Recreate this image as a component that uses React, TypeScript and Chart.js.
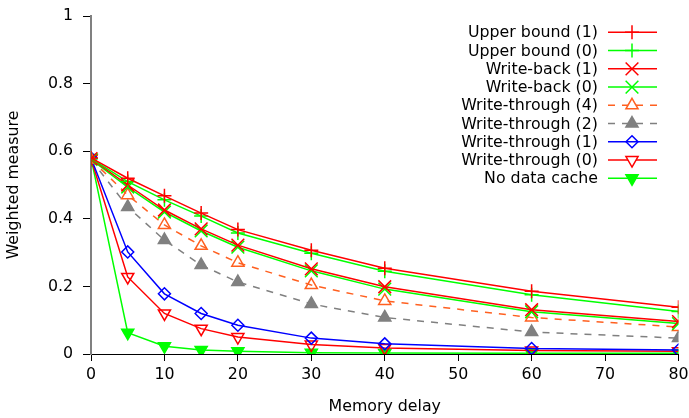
import React, { useEffect, useRef } from "react";
import { Chart, registerables } from "chart.js";

Chart.register(...registerables);

const delays = [0, 5, 10, 15, 20, 30, 40, 60, 80];
const upperBound1 = [0.58, 0.52, 0.468, 0.417, 0.368, 0.307, 0.254, 0.186, 0.138];
const upperBound0 = [0.578, 0.51, 0.456, 0.408, 0.358, 0.298, 0.245, 0.175, 0.126];
const writeBack1 = [0.578, 0.5, 0.426, 0.37, 0.322, 0.252, 0.199, 0.131, 0.096];
const writeBack0 = [0.576, 0.494, 0.42, 0.364, 0.316, 0.246, 0.192, 0.125, 0.09];
const writeThrough4 = [0.576, 0.47, 0.382, 0.32, 0.27, 0.204, 0.157, 0.108, 0.08];
const writeThrough2 = [0.575, 0.435, 0.337, 0.263, 0.213, 0.148, 0.108, 0.065, 0.047];
const writeThrough1 = [0.58, 0.302, 0.178, 0.12, 0.085, 0.047, 0.03, 0.016, 0.012];
const writeThrough0 = [0.578, 0.228, 0.12, 0.075, 0.05, 0.028, 0.018, 0.01, 0.008];
const noDataCache = [0.58, 0.063, 0.023, 0.012, 0.008, 0.004, 0.003, 0.002, 0.002];

const seriesNames = [
  "Upper bound (1)",
  "Upper bound (0)",
  "Write-back (1)",
  "Write-back (0)",
  "Write-through (4)",
  "Write-through (2)",
  "Write-through (1)",
  "Write-through (0)",
  "No data cache",
];
const yTicks = [0, 0.2, 0.4, 0.6, 0.8, 1];

const RED = "#ff0000";
const GREEN = "#00ff00";
const ORANGE = "#ff6020";
const GRAY = "#808080";
const BLUE = "#0000ff";
const FONT = "'DejaVu Sans', sans-serif";
const FS = 15.8;

type Style = {
  color: string;
  point: string;
  rotation: number;
  filled: boolean;
  dash: number[];
  radius: number;
};

const styles: Style[] = [
  { color: RED, point: "cross", rotation: 0, filled: false, dash: [], radius: 7 },
  { color: GREEN, point: "cross", rotation: 0, filled: false, dash: [], radius: 7 },
  { color: RED, point: "crossRot", rotation: 0, filled: false, dash: [], radius: 9 },
  { color: GREEN, point: "crossRot", rotation: 0, filled: false, dash: [], radius: 9 },
  { color: ORANGE, point: "triangle", rotation: 0, filled: false, dash: [7, 7], radius: 7 },
  { color: GRAY, point: "triangle", rotation: 0, filled: true, dash: [7, 7], radius: 7 },
  { color: BLUE, point: "rectRot", rotation: 0, filled: false, dash: [], radius: 6 },
  { color: RED, point: "triangle", rotation: 180, filled: false, dash: [], radius: 7 },
  { color: GREEN, point: "triangle", rotation: 180, filled: true, dash: [], radius: 7 },
];

const allValues = [
  upperBound1,
  upperBound0,
  writeBack1,
  writeBack0,
  writeThrough4,
  writeThrough2,
  writeThrough1,
  writeThrough0,
  noDataCache,
];

function drawMarker(ctx: CanvasRenderingContext2D, s: Style, x: number, y: number) {
  const r = s.radius;
  ctx.beginPath();
  if (s.point === "cross") {
    ctx.moveTo(x - r, y);
    ctx.lineTo(x + r, y);
    ctx.moveTo(x, y - r);
    ctx.lineTo(x, y + r);
    ctx.stroke();
  } else if (s.point === "crossRot") {
    const d = r * Math.SQRT1_2;
    ctx.moveTo(x - d, y - d);
    ctx.lineTo(x + d, y + d);
    ctx.moveTo(x - d, y + d);
    ctx.lineTo(x + d, y - d);
    ctx.stroke();
  } else if (s.point === "rectRot") {
    ctx.moveTo(x, y - r);
    ctx.lineTo(x + r, y);
    ctx.lineTo(x, y + r);
    ctx.lineTo(x - r, y);
    ctx.closePath();
    ctx.stroke();
  } else {
    const sign = s.rotation === 180 ? -1 : 1;
    const edge = (3 * r) / Math.sqrt(3);
    const h = (edge * Math.sqrt(3)) / 2;
    const top = y - (sign * (h * 2)) / 3;
    const bottom = y + (sign * h) / 3;
    ctx.moveTo(x, top);
    ctx.lineTo(x + edge / 2, bottom);
    ctx.lineTo(x - edge / 2, bottom);
    ctx.closePath();
    ctx.fillStyle = s.filled ? s.color : "#ffffff";
    ctx.fill();
    ctx.stroke();
  }
}

const legendPlugin = {
  id: "insideLegend",
  afterDraw(chart: any) {
    const ctx = chart.ctx as CanvasRenderingContext2D;
    const x0 = 608;
    const x1 = 657;
    const xm = 632;
    seriesNames.forEach((name, i) => {
      const y = 32.3 + i * 18.25;
      const s = styles[i];
      ctx.save();
      ctx.font = `${FS}px ${FONT}`;
      ctx.textAlign = "right";
      ctx.textBaseline = "middle";
      ctx.fillStyle = "#000";
      ctx.fillText(name, 598, y + 1);
      ctx.strokeStyle = s.color;
      ctx.lineWidth = 1.5;
      ctx.setLineDash(s.dash);
      ctx.beginPath();
      ctx.moveTo(x0, y);
      ctx.lineTo(x1, y);
      ctx.stroke();
      ctx.setLineDash([]);
      drawMarker(ctx, s, xm, y);
      ctx.restore();
    });
  },
};

export default function App() {
  const ref = useRef<HTMLCanvasElement | null>(null);

  useEffect(() => {
    document.body.style.margin = "0";
    const canvas = ref.current;
    if (!canvas) return;
    const datasets = allValues.map((vals, i) => {
      const s = styles[i];
      return {
        label: seriesNames[i],
        data: delays.map((d, j) => ({ x: d, y: vals[j] })),
        borderColor: s.color,
        backgroundColor: s.filled ? s.color : "#ffffff",
        borderWidth: 1.5,
        borderDash: s.dash,
        pointStyle: s.point as any,
        pointRotation: s.rotation,
        pointRadius: s.radius,
        pointBorderWidth: 1.5,
        pointBorderColor: s.color,
        pointBackgroundColor: s.filled ? s.color : "rgba(255,255,255,0)",
        tension: 0,
        fill: false,
        order: i,
      };
    });
    const chart = new Chart(canvas, {
      type: "line",
      data: { datasets },
      plugins: [legendPlugin],
      options: {
        responsive: false,
        animation: false,
        devicePixelRatio: 1,
        layout: { padding: { top: 16, right: 10, left: 0, bottom: 0 } },
        plugins: { legend: { display: false }, tooltip: { enabled: false } },
        scales: {
          x: {
            type: "linear",
            min: 0,
            max: 80,
            afterFit: (scale: any) => {
              scale.height = 64;
              scale.paddingLeft = 0;
              scale.paddingRight = 0;
            },
            grid: { drawOnChartArea: false, tickLength: 7, color: "#000", lineWidth: 1 },
            border: { color: "#000", width: 1 },
            ticks: {
              stepSize: 10,
              color: "#000",
              padding: 4,
              font: { family: FONT, size: FS },
              maxRotation: 0,
            },
            title: {
              display: true,
              text: "Memory delay",
              color: "#000",
              font: { family: FONT, size: FS },
              padding: { top: 0, bottom: 2 },
            },
          },
          y: {
            type: "linear",
            min: 0,
            max: 1,
            afterFit: (scale: any) => {
              scale.width = 91;
              scale.paddingTop = 0;
              scale.paddingBottom = 0;
            },
            afterBuildTicks: (scale: any) => {
              scale.ticks = yTicks.map((v) => ({ value: v }));
            },
            grid: { drawOnChartArea: false, tickLength: 8, color: "#000", lineWidth: 1 },
            border: { color: "#808080", width: 2 },
            ticks: {
              color: "#000",
              padding: 10,
              font: { family: FONT, size: FS },
              callback: (v: any) => String(Number(v)),
            },
            title: {
              display: true,
              text: "Weighted measure",
              color: "#000",
              font: { family: FONT, size: FS },
              padding: { top: 4, bottom: 4 },
            },
          },
        },
      },
    });
    return () => chart.destroy();
  }, []);

  return (
    <div style={{ width: 689, height: 418 }}>
      <canvas ref={ref} width={689} height={418} style={{ display: "block" }} />
    </div>
  );
}
